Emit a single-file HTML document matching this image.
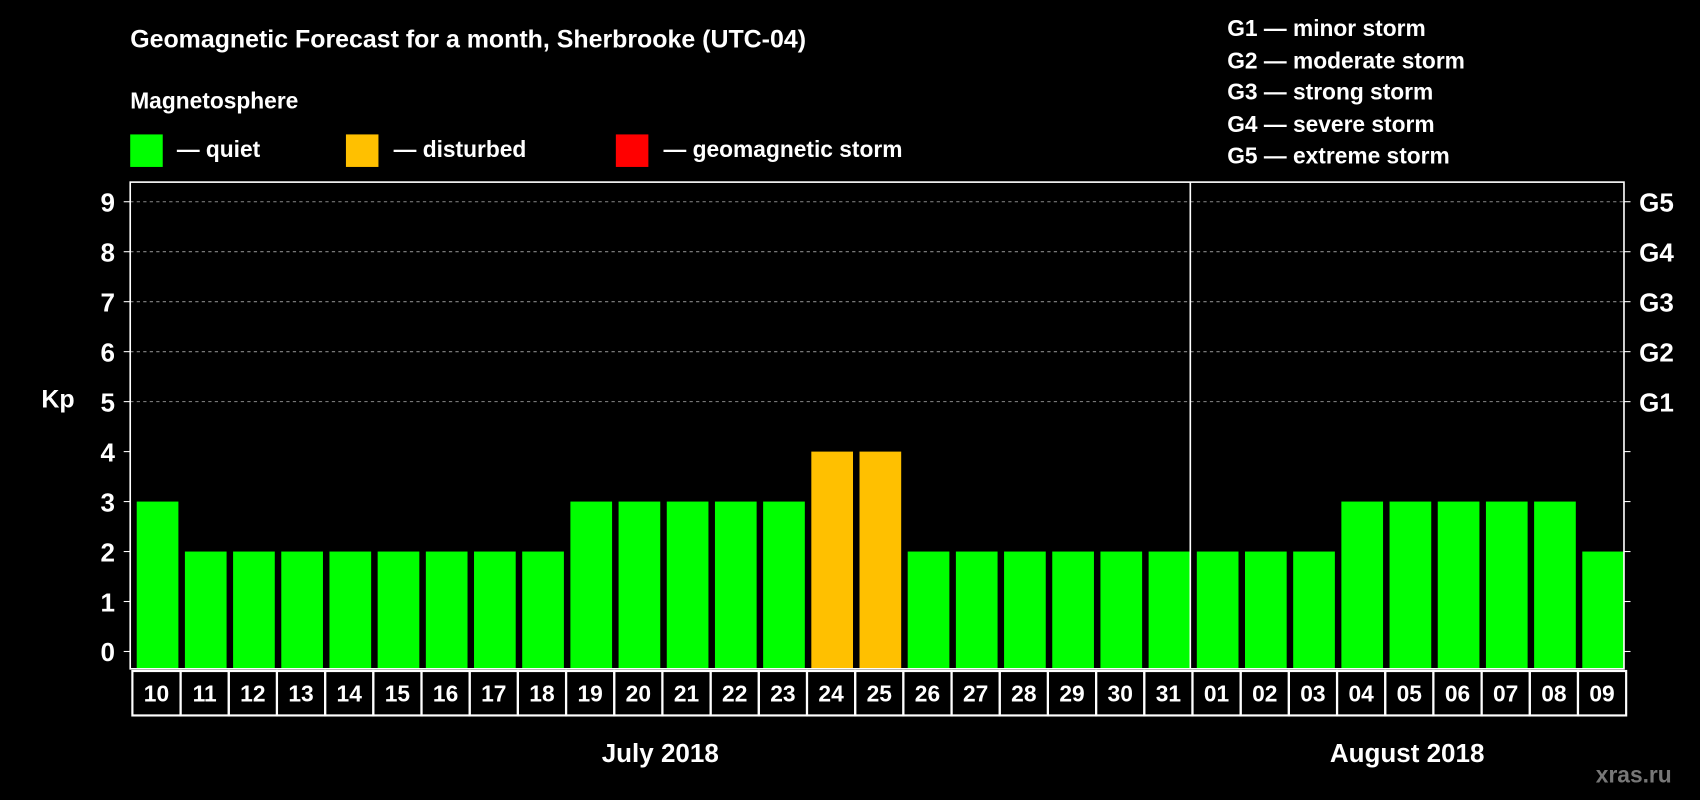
<!DOCTYPE html>
<html><head><meta charset="utf-8"><style>
html,body{margin:0;padding:0;background:#000;width:1700px;height:800px;overflow:hidden}
svg text{font-family:"Liberation Sans",Arial,sans-serif;font-weight:bold;fill:#fff}
</style></head><body>
<svg id="chart" width="1700" height="800" viewBox="0 0 1568 738" xmlns="http://www.w3.org/2000/svg">
<rect width="1568" height="738" fill="#000"/>
<text x="120" y="44" font-size="23">Geomagnetic Forecast for a month, Sherbrooke (UTC-04)</text>
<text x="120" y="100" font-size="21">Magnetosphere</text>
<g>
<rect x="120" y="124" width="30" height="30" fill="#00ff00"/>
<text x="163" y="145" font-size="21">— quiet</text>
<rect x="319" y="124" width="30" height="30" fill="#ffc000"/>
<text x="363" y="145" font-size="21">— disturbed</text>
<rect x="568" y="124" width="30" height="30" fill="#ff0000"/>
<text x="612" y="145" font-size="21">— geomagnetic storm</text>
</g>
<g font-size="21">
<text x="1132" y="33">G1 — minor storm</text>
<text x="1132" y="63">G2 — moderate storm</text>
<text x="1132" y="92">G3 — strong storm</text>
<text x="1132" y="122">G4 — severe storm</text>
<text x="1132" y="151">G5 — extreme storm</text>
</g>
<text x="38" y="376" font-size="23">Kp</text>
<text x="1472" y="722" font-size="21" fill="#777" style="fill:#777">xras.ru</text>
<g id="plot"></g>
</svg>
<script>
const days=["10","11","12","13","14","15","16","17","18","19","20","21","22","23","24","25","26","27","28","29","30","31","01","02","03","04","05","06","07","08","09"];
const kpValues=[3,2,2,2,2,2,2,2,2,3,3,3,3,3,4,4,2,2,2,2,2,2,2,2,2,3,3,3,3,3,2];
const yTicks=[0,1,2,3,4,5,6,7,8,9];
const gLabels=["G1","G2","G3","G4","G5"];
const months=["July 2018","August 2018"];
const monthStart=[0,22];

const NS="http://www.w3.org/2000/svg";
const L=120,R=1498,T=168,B=617;
const y0=601,unit=46.1;
const y=v=>y0-v*unit;
const pitch=(R-L)/days.length;
const x=i=>L+i*pitch;
const g=document.getElementById('plot');
function mk(tag,attrs,txt){const e=document.createElementNS(NS,tag);for(const k in attrs)e.setAttribute(k,attrs[k]);if(txt!==undefined)e.textContent=txt;g.appendChild(e);return e;}

yTicks.forEach(v=>{
  if(v>=5){const l=mk('line',{x1:L,x2:R,y1:y(v),y2:y(v),stroke:'#888','stroke-dasharray':'3,3','stroke-width':1});
  
  }
  const tl=mk('line',{x1:L-6,x2:L,y1:y(v),y2:y(v),stroke:'#fff'});
  
  
  const tr=mk('line',{x1:R,x2:R+6,y1:y(v),y2:y(v),stroke:'#fff'});
  
  
  const t=mk('text',{x:L-14,y:y(v)+9,'font-size':24,'text-anchor':'end'},String(v));
  
  
});
gLabels.forEach((s,i)=>{
  const t=mk('text',{x:R+14,y:y(5+i)+9,'font-size':24},s);
  
  
});
kpValues.forEach((v,i)=>{
  const c=v>=5?'#ff0000':(v>=4?'#ffc000':'#00ff00');
  const r=mk('rect',{x:x(i)+6,y:y(v),width:pitch-6,height:B-y(v),fill:c});
  
  
  const c2=mk('rect',{x:x(i)+2,y:619,width:pitch,height:41,fill:'none',stroke:'#fff','stroke-width':2});
  
  
  const t=mk('text',{x:x(i)+2+pitch/2,y:647,'font-size':21,'text-anchor':'middle'},days[i]);
  
  
});
const frame=mk('rect',{x:L,y:T,width:R-L,height:B-T,fill:'none',stroke:'#fff','stroke-width':1.5});


const dv=mk('line',{x1:x(monthStart[1]),x2:x(monthStart[1]),y1:T,y2:B,stroke:'#fff','stroke-width':1.5});


months.forEach((m,k)=>{
  const s=monthStart[k],e=k+1<months.length?monthStart[k+1]:days.length;
  const t=mk('text',{x:(x(s)+x(e))/2,y:703,'font-size':24,'text-anchor':'middle'},m);
  
  
});
</script>
</body></html>
